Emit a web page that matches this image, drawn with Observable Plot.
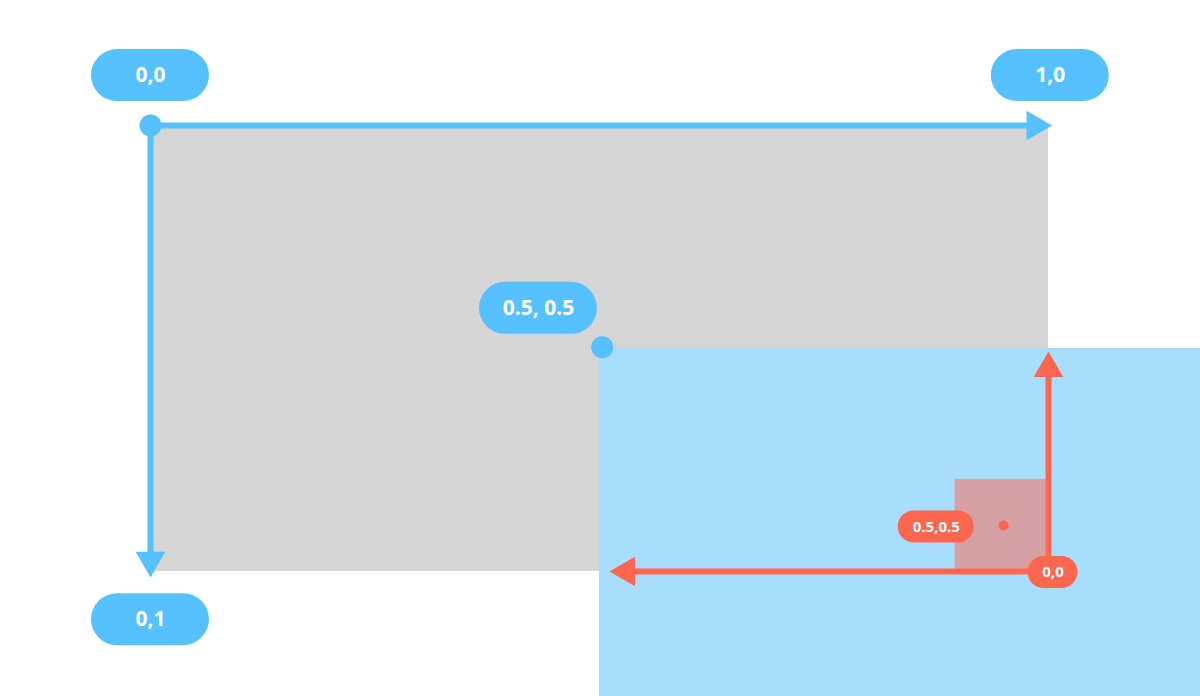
<!DOCTYPE html><html><head><meta charset="utf-8">
<script src="https://cdn.jsdelivr.net/npm/d3@7"></script>
<script src="https://cdn.jsdelivr.net/npm/@observablehq/plot@0.6"></script>
<style>body{margin:0;background:#fff}</style></head><body><div id="c"></div><script>
const rects = [
  {name:"parent", x1:0, x2:1, y1:0, y2:1, fill:"#D5D5D5"},
  {name:"child", x1:0.5, x2:1.2, y1:0.5, y2:1.3, fill:"#A8DEFD"},
  {name:"square", x1:0.896, x2:1, y1:0.794, y2:1, fill:"#D4A0A4"}
];
const blueLines = [{x1:0,y1:0,x2:0.985,y2:0},{x1:0,y1:0,x2:0,y2:0.975}];
const blueHeads = [{x:0.985,y:0,rot:90},{x:0,y:0.975,rot:180}];
const redLines = [{x1:1,y1:1,x2:1,y2:0.545},{x1:1,y1:1,x2:0.53,y2:1}];
const redHeads = [{x:1,y:0.545,rot:0},{x:0.53,y:1,rot:270}];
const blueDots = [{x:0,y:0},{x:0.503,y:0.497}];
const redDots = [{x:0.95,y:0.897}];
const blueLabels = [{t:"0,0",x:0,y:-0.112},{t:"1,0",x:1.002,y:-0.112},{t:"0,1",x:0,y:1.108},{t:"0.5, 0.5",x:0.432,y:0.41}];
const redLabels = [{t:"0.5,0.5",x:0.875,y:0.9,w:38},{t:"0,0",x:1.005,y:1.002,w:25}];
const BLUE="#56C1FF", RED="#FF6650";
const chart = Plot.plot({
  width:1200, height:696, margin:0,
  x:{domain:[-150/898,1050/898], range:[0,1200], axis:null},
  y:{domain:[-125/446,571/446], range:[0,696], axis:null},
  style:{background:"#fff"},
  marks:[
    Plot.rect(rects,{x1:"x1",x2:"x2",y1:"y1",y2:"y2",fill:"fill"}),
    Plot.link(blueLines,{x1:"x1",y1:"y1",x2:"x2",y2:"y2",stroke:BLUE,strokeWidth:6}),
    Plot.dot(blueHeads,{x:"x",y:"y",rotate:"rot",symbol:"triangle",r:11,fill:BLUE}),
    Plot.dot(blueDots,{x:"x",y:"y",r:11,fill:BLUE}),
    Plot.link(redLines,{x1:"x1",y1:"y1",x2:"x2",y2:"y2",stroke:RED,strokeWidth:6}),
    Plot.dot(redHeads,{x:"x",y:"y",rotate:"rot",symbol:"triangle",r:11,fill:RED}),
    Plot.dot(redDots,{x:"x",y:"y",r:5,fill:RED}),
    Plot.rect(blueLabels,{x1:"x",x2:"x",y1:"y",y2:"y",insetLeft:-59,insetRight:-59,insetTop:-26,insetBottom:-26,rx:26,fill:BLUE}),
    Plot.text(blueLabels,{x:"x",y:"y",text:"t",fill:"#fff",fontSize:21,fontWeight:"bold",fontFamily:"Open Sans"}),
    Plot.rect(redLabels.slice(0,1),{x1:"x",x2:"x",y1:"y",y2:"y",insetLeft:-38,insetRight:-38,insetTop:-16,insetBottom:-16,rx:16,fill:RED}),
    Plot.rect(redLabels.slice(1),{x1:"x",x2:"x",y1:"y",y2:"y",insetLeft:-25,insetRight:-25,insetTop:-16,insetBottom:-16,rx:16,fill:RED}),
    Plot.text(redLabels,{x:"x",y:"y",text:"t",fill:"#fff",fontSize:15,fontWeight:"bold",fontFamily:"Open Sans"})
  ]
});
document.getElementById("c").appendChild(chart);
</script></body></html>
